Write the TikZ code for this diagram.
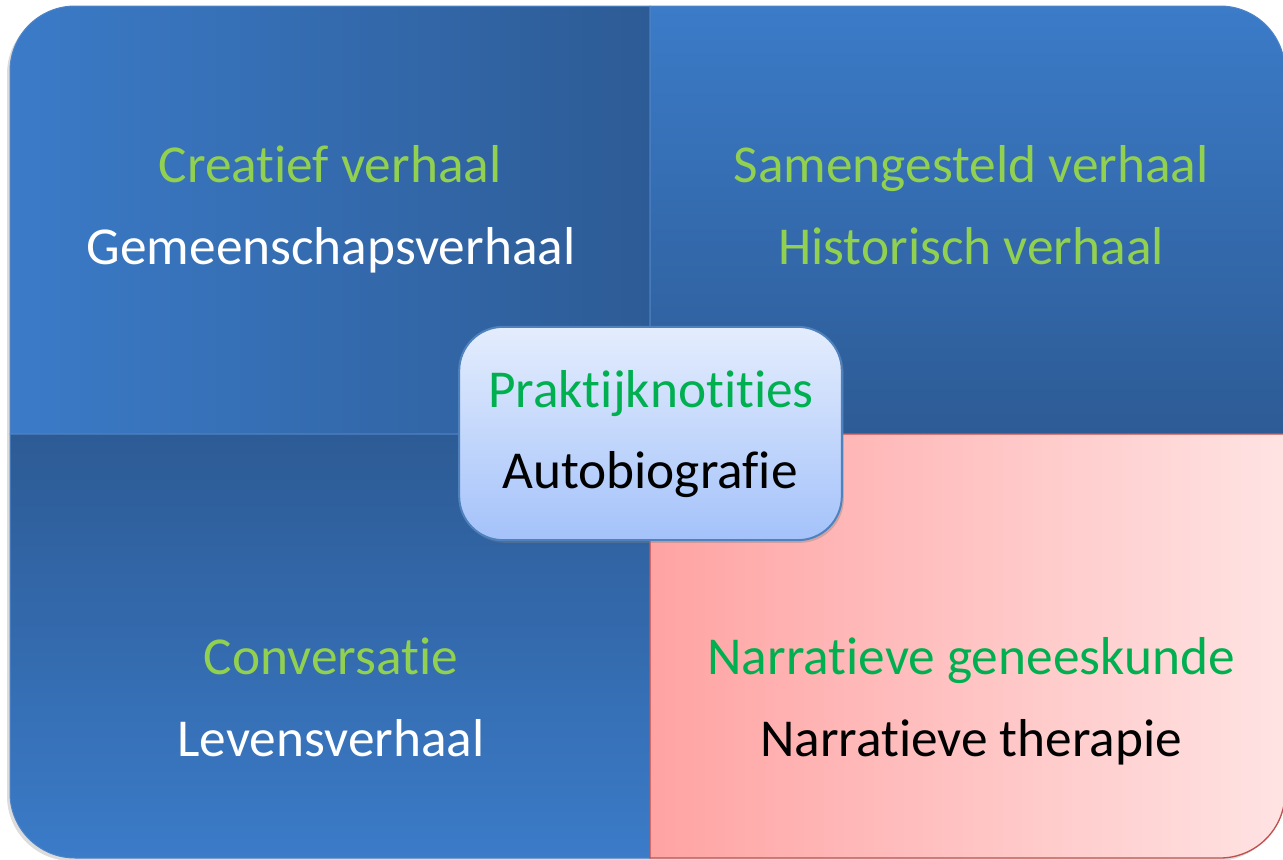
\documentclass[tikz,border=0pt]{standalone}
\usepackage{fontspec}
\setmainfont{Carlito}[Ligatures={NoCommon}]
\usetikzlibrary{shadows}
\definecolor{blueA}{HTML}{3B7BC8}
\definecolor{blueB}{HTML}{2D5B95}
\definecolor{blueLine}{HTML}{4F84C6}
\definecolor{pinkA}{HTML}{FFA3A3}
\definecolor{pinkB}{HTML}{FFE3E3}
\definecolor{redLine}{HTML}{C0504D}
\definecolor{boxTop}{HTML}{E4EDFD}
\definecolor{boxBot}{HTML}{A4C2FA}
\definecolor{boxLine}{HTML}{4F81BD}
\definecolor{lgreen}{HTML}{92D050}
\definecolor{dgreen}{HTML}{00B050}
\tikzset{
  x=0.75pt, y=-0.75pt,
  quad/.style={draw=blueLine, line width=0.75pt},
  txt/.style={anchor=base, inner sep=0pt, font=\fontsize{40}{48}\selectfont},
}
\begin{document}
\begin{tikzpicture}
\useasboundingbox (0,0) rectangle (1283,860);
% outer shadow
\fill[black!30, opacity=0.45] (7,437) -- (7,74) arc[start angle=180, end angle=90, radius=48.75pt] -- (1217,9) arc[start angle=90, end angle=0, radius=48.75pt] -- (1282,796) arc[start angle=0, end angle=-90, radius=48.75pt] -- (72,861) arc[start angle=270, end angle=180, radius=48.75pt] -- cycle;
% quadrants
\path[quad, left color=blueA, right color=blueB]
  (10,434) -- (10,71) arc[start angle=180, end angle=90, radius=48.75pt] -- (650,6) -- (650,434) -- cycle;
\path[quad, top color=blueA, bottom color=blueB]
  (650,6) -- (1220,6) arc[start angle=90, end angle=0, radius=48.75pt] -- (1285,434) -- (650,434) -- cycle;
\path[quad, top color=blueB, bottom color=blueA]
  (10,434) -- (650,434) -- (650,858) -- (75,858) arc[start angle=270, end angle=180, radius=48.75pt] -- cycle;
\path[draw=redLine, line width=1pt, left color=pinkA, right color=pinkB]
  (650,434) -- (1285,434) -- (1285,793) arc[start angle=0, end angle=-90, radius=48.75pt] -- (650,858) -- cycle;
% centre box
\node[draw=boxLine, line width=1.5pt, rounded corners=33pt, top color=boxTop, bottom color=boxBot,
      minimum width=287pt, minimum height=160pt, inner sep=0pt,
      drop shadow={opacity=0.35, shadow xshift=1.5pt, shadow yshift=-2pt}] (box) at (650.5,433.5) {};
% texts
\node[txt, text=lgreen] (tl1) at (330,182) {Creatief verhaal};
\node[txt, text=white] (tl2) at (331,264) {Gemeenschapsverhaal};
\node[txt, text=lgreen] (tr1) at (971,182) {Samengesteld verhaal};
\node[txt, text=lgreen] (tr2) at (971,264) {Historisch verhaal};
\node[txt, text=lgreen] (bl1) at (331,674) {Conversatie};
\node[txt, text=white] (bl2) at (331,756) {Levensverhaal};
\node[txt, text=dgreen] (br1) at (971,674) {Narratieve geneeskunde};
\node[txt, text=black] (br2) at (971,756) {Narratieve therapie};
\node[txt, text=dgreen] (c1) at (651,407) {Praktijknotities};
\node[txt, text=black] (c2) at (650,488) {Autobiografie};
\end{tikzpicture}
\end{document}
